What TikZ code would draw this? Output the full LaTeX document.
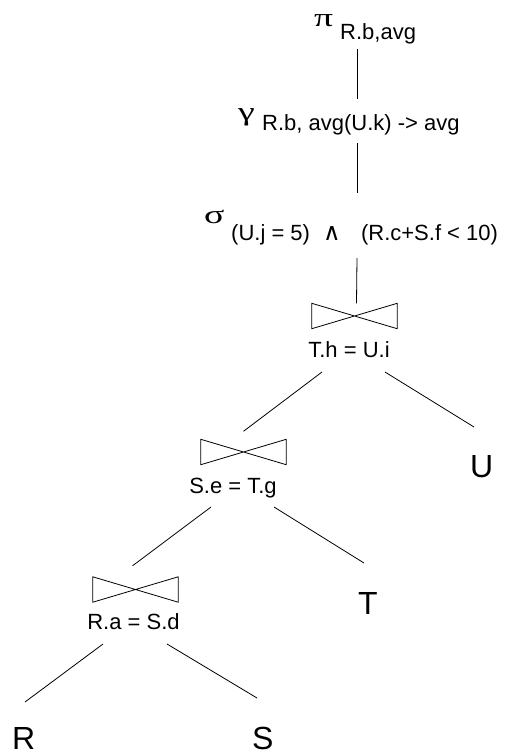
\documentclass[tikz,border=0pt]{standalone}
\usepackage{fontspec}
\setmainfont{Liberation Sans}
\newfontfamily\grk[FakeStretch=1.45]{Liberation Serif}
\newfontfamily\symf{DejaVu Sans}
\begin{document}
\begin{tikzpicture}[x=1pt,y=-1pt,
  lbl/.style={inner sep=0pt,anchor=base west,font=\fontsize{22}{26}\selectfont},
  glbl/.style={inner sep=0pt,anchor=base west,font=\grk\fontsize{26}{30}\selectfont},
  rel/.style={inner sep=0pt,anchor=base west,font=\fontsize{32}{36}\selectfont},
  bowtie/.style={inner sep=0pt,minimum width=85pt,minimum height=25pt},
  edge/.style={draw=black,line width=0.8pt},
  tie/.style={draw=black,line width=0.8pt,line join=miter}]
\useasboundingbox (0,0) rectangle (504,753);
% operators
\node[glbl] (pi) at (314,26) {π};
\node[lbl] (pisub) at (340,39) {R.b,avg};
\node[glbl] (gam) at (238,120) {γ};
\node[lbl] (gamsub) at (262,130) {R.b, avg(U.k) -> avg};
\node[glbl] (sig) at (204,223) {σ};
\node[lbl] (sigsub) at (231,240) {(U.j = 5)\makebox[0pt][l]{\hspace{13pt}{\symf\fontsize{24}{26}\selectfont ∧}}\hspace{51pt}(R.c+S.f < 10)};
% joins
\node[bowtie] (j1) at (354.5,316) {};
\node[lbl,anchor=base] (j1l) at (349,357) {T.h = U.i};
\node[bowtie] (j2) at (243.5,452) {};
\node[lbl,anchor=base] (j2l) at (233,493) {S.e = T.g};
\node[bowtie] (j3) at (135.5,589.5) {};
\node[lbl,anchor=base] (j3l) at (133.5,629) {R.a = S.d};
\foreach \j in {j1,j2,j3}{
  \draw[tie] (\j.north west) -- (\j.south east) -- (\j.north east) -- (\j.south west) -- cycle;
}
% relations
\node[rel] (U) at (470,477) {U};
\node[rel] (T) at (358,614) {T};
\node[rel] (R) at (12,749) {R};
\node[rel] (S) at (252,749) {S};
% connectors
\draw[edge] ([shift={(17,10)}]pisub.base west) -- ([shift={(95,-31)}]gamsub.base west);
\draw[edge] ([shift={(95,13)}]gamsub.base west) -- ([shift={(126,-47)}]sigsub.base west);
\draw[edge] ([shift={(126,18)}]sigsub.base west) -- ([shift={(2,0)}]j1.north);
\draw[edge] ([shift={(-27,15)}]j1l.base) -- ([shift={(0,-8)}]j2.north);
\draw[edge] ([shift={(36,15)}]j1l.base) -- ([shift={(4,-50)}]U.base west);
\draw[edge] ([shift={(-22,14)}]j2l.base) -- ([shift={(-3,-11)}]j3.north);
\draw[edge] ([shift={(41,14)}]j2l.base) -- ([shift={(6,-51)}]T.base west);
\draw[edge] ([shift={(-30.5,15)}]j3l.base) -- ([shift={(13,-47)}]R.base west);
\draw[edge] ([shift={(33.5,15)}]j3l.base) -- ([shift={(5,-51)}]S.base west);
\end{tikzpicture}
\end{document}
